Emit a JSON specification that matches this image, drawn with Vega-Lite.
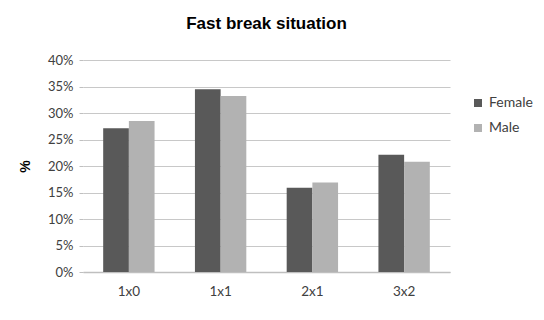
{
  "$schema": "https://vega.github.io/schema/vega-lite/v6.json",
  "autosize": "none",
  "width": 367,
  "height": 212,
  "padding": {"left": 83, "top": 60, "right": 94, "bottom": 48},
  "background": "white",
  "title": {
    "text": "Fast break situation",
    "font": "Liberation Sans",
    "fontSize": 17,
    "fontWeight": "bold",
    "color": "#000000",
    "anchor": "middle",
    "offset": 21
  },
  "data": {
    "values": [
      {"situation": "1x0", "sex": "Female", "pct": 0.271},
      {"situation": "1x0", "sex": "Male", "pct": 0.285},
      {"situation": "1x1", "sex": "Female", "pct": 0.345},
      {"situation": "1x1", "sex": "Male", "pct": 0.332},
      {"situation": "2x1", "sex": "Female", "pct": 0.159},
      {"situation": "2x1", "sex": "Male", "pct": 0.169},
      {"situation": "3x2", "sex": "Female", "pct": 0.221},
      {"situation": "3x2", "sex": "Male", "pct": 0.208}
    ]
  },
  "mark": {"type": "bar"},
  "encoding": {
    "x": {
      "field": "situation",
      "type": "nominal",
      "scale": {"paddingInner": 0.44, "paddingOuter": 0.22},
      "axis": {
        "title": null,
        "labelAngle": 0,
        "labelFont": "Lato",
        "labelFontSize": 13.5,
        "labelColor": "#404040",
        "labelPadding": 12,
        "ticks": false,
        "domainColor": "#bfbfbf",
        "domainWidth": 1.5
      }
    },
    "xOffset": {"field": "sex", "type": "nominal", "sort": ["Female", "Male"]},
    "y": {
      "field": "pct",
      "type": "quantitative",
      "scale": {"domain": [0, 0.4], "nice": false},
      "axis": {
        "title": "%",
        "titleFont": "Liberation Sans",
        "titleFontSize": 14,
        "titleFontWeight": "bold",
        "titleColor": "#000000",
        "titleX": -51,
        "format": ".0%",
        "values": [0, 0.05, 0.1, 0.15, 0.2, 0.25, 0.3, 0.35, 0.4],
        "labelFont": "Lato",
        "labelFontSize": 13,
        "labelColor": "#404040",
        "labelPadding": 6,
        "tickSize": 4,
        "tickColor": "#bfbfbf",
        "domain": false,
        "gridColor": "#c8c8c8",
        "gridWidth": 1.2
      }
    },
    "color": {
      "field": "sex",
      "type": "nominal",
      "sort": ["Female", "Male"],
      "scale": {"domain": ["Female", "Male"], "range": ["#595959", "#b2b2b2"]},
      "legend": {
        "title": null,
        "orient": "none",
        "legendX": 388,
        "legendY": 36,
        "symbolType": "square",
        "symbolSize": 64,
        "symbolStrokeWidth": 0,
        "labelFont": "Lato",
        "labelFontSize": 14,
        "labelColor": "#404040",
        "labelOffset": 4,
        "rowPadding": 11
      }
    }
  },
  "config": {
    "view": {"stroke": null}
  }
}
